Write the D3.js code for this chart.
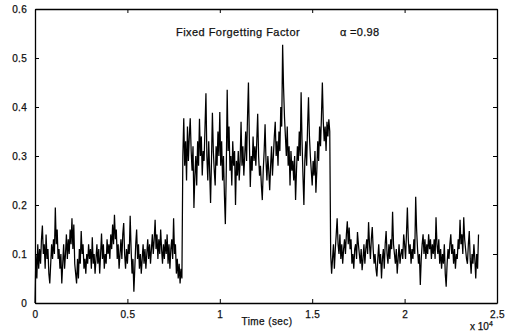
<!DOCTYPE html>
<html>
<head>
<meta charset="utf-8">
<script src="https://cdn.jsdelivr.net/npm/d3@7"></script>
<style>
  html, body { margin: 0; padding: 0; background: #fff; }
  svg { display: block; }
  .tick text { font-family: "Liberation Sans", Arial, sans-serif; font-size: 10px; fill: #111; }
  text { stroke: #111; stroke-width: 0.25px; }
</style>
</head>
<body>
<svg id="chart" width="506" height="332"></svg>
<script>
// ---- data ----
const sampleStep = 50; // seconds between samples
const segmentLow1 = [
  0.00,0.10,0.05,0.12,0.07,0.11,0.08,0.13,0.158,0.10,
  0.12,0.07,0.14,0.09,0.11,0.06,0.04,0.08,0.12,0.09,
  0.13,0.10,0.195,0.12,0.15,0.09,0.11,0.07,0.10,0.04,
  0.08,0.12,0.07,0.10,0.14,0.09,0.13,0.10,0.15,0.12,
  0.173,0.11,0.16,0.08,0.06,0.04,0.09,0.05,0.11,0.08,
  0.147,0.10,0.12,0.07,0.09,0.06,0.10,0.08,0.12,0.09,
  0.11,0.07,0.134,0.08,0.10,0.06,0.09,0.12,0.08,0.11,
  0.06,0.10,0.142,0.09,0.12,0.07,0.10,0.08,0.13,0.10,
  0.12,0.09,0.14,0.11,0.16,0.12,0.18,0.13,0.15,0.09,
  0.12,0.07,0.10,0.13,0.09,0.14,0.163,0.10,0.07,0.11,
  0.08,0.12,0.10,0.178,0.11,0.06,0.09,0.023,0.07,0.12,
  0.15,0.09,0.12,0.07,0.10,0.06,0.09,0.12,0.08,0.11,
  0.07,0.10,0.13,0.09,0.12,0.08,0.11,0.14,0.10,0.13,
  0.17,0.11,0.14,0.09,0.13,0.10,0.15,0.11,0.08,0.12,
  0.09,0.13,0.10,0.14,0.08,0.12,0.07,0.11,0.13,0.09,
  0.173,0.10,0.12,0.06,0.09,0.05,0.08,0.04,0.07,0.05
];
const segmentHigh = [
  0.30,0.377,0.28,0.33,0.25,0.36,0.29,0.34,0.377,0.31,
  0.27,0.32,0.194,0.26,0.30,0.24,0.33,0.28,0.376,0.30,
  0.34,0.26,0.31,0.29,0.36,0.428,0.30,0.25,0.33,0.27,
  0.204,0.29,0.388,0.31,0.27,0.24,0.32,0.28,0.35,0.30,
  0.39,0.28,0.33,0.25,0.30,0.22,0.161,0.27,0.435,0.31,
  0.36,0.27,0.30,0.24,0.33,0.28,0.31,0.20,0.29,0.26,
  0.31,0.25,0.29,0.37,0.28,0.32,0.26,0.30,0.35,0.29,
  0.38,0.45,0.33,0.237,0.30,0.27,0.34,0.29,0.32,0.28,
  0.33,0.386,0.30,0.26,0.28,0.24,0.21,0.27,0.31,0.365,
  0.29,0.25,0.30,0.27,0.23,0.28,0.32,0.26,0.30,0.34,
  0.37,0.30,0.33,0.28,0.35,0.31,0.40,0.36,0.527,0.44,
  0.38,0.34,0.30,0.36,0.28,0.32,0.24,0.31,0.27,0.29,
  0.25,0.30,0.21,0.27,0.32,0.29,0.35,0.30,0.43,0.33,
  0.26,0.20,0.29,0.33,0.28,0.36,0.42,0.34,0.30,0.27,
  0.24,0.29,0.26,0.31,0.225,0.27,0.33,0.29,0.36,0.32,
  0.38,0.45,0.37,0.33,0.36,0.31,0.37,0.34,0.375,0.35
];
const segmentLow2 = [
  0.10,0.06,0.09,0.12,0.07,0.11,0.14,0.173,0.12,0.10,
  0.14,0.09,0.12,0.08,0.11,0.13,0.10,0.14,0.167,0.12,
  0.154,0.11,0.13,0.08,0.10,0.07,0.11,0.12,0.09,0.145,
  0.12,0.10,0.08,0.11,0.067,0.09,0.12,0.08,0.11,0.13,
  0.10,0.165,0.12,0.09,0.13,0.155,0.11,0.08,0.10,0.07,
  0.054,0.09,0.12,0.08,0.10,0.05,0.09,0.11,0.07,0.12,
  0.147,0.10,0.08,0.12,0.09,0.13,0.11,0.186,0.12,0.10,
  0.08,0.11,0.06,0.09,0.12,0.08,0.10,0.11,0.09,0.14,
  0.12,0.09,0.14,0.195,0.13,0.10,0.12,0.08,0.11,0.09,
  0.13,0.10,0.217,0.15,0.11,0.08,0.10,0.037,0.09,0.12,
  0.14,0.10,0.13,0.09,0.12,0.10,0.14,0.11,0.13,0.09,
  0.12,0.10,0.13,0.09,0.175,0.12,0.10,0.13,0.08,0.11,
  0.07,0.10,0.08,0.12,0.06,0.033,0.08,0.11,0.09,0.12,
  0.14,0.10,0.12,0.08,0.11,0.07,0.10,0.09,0.13,0.11,
  0.17,0.12,0.14,0.10,0.175,0.13,0.11,0.09,0.08,0.12,
  0.147,0.09,0.06,0.10,0.08,0.12,0.09,0.05,0.10,0.07,
  0.14
];
const xTicks = [0, 5000, 10000, 15000, 20000, 25000];
const xTickLabels = ["0", "0.5", "1", "1.5", "2", "2.5"];
const yTicks = [0, 0.1, 0.2, 0.3, 0.4, 0.5, 0.6];
const yTickLabels = ["0", "0.1", "0.2", "0.3", "0.4", "0.5", "0.6"];
const titleText = "Fixed Forgetting Factor";
const alphaText = "\u03B1 =0.98";
const xLabelText = "Time (sec)";

// ---- build series ----
const values = segmentLow1.concat(segmentHigh, segmentLow2);
const series = values.map((v, i) => ({ t: i * sampleStep, v }));

// ---- layout ----
const L = 35, R = 497, T = 9, B = 303;
const svg = d3.select("#chart");
const x = d3.scaleLinear().domain([0, 25000]).range([L, R]);
const y = d3.scaleLinear().domain([0, 0.6]).range([B, T]);
const font = '"Liberation Sans", Arial, sans-serif';

// data line
svg.append("path")
  .datum(series)
  .attr("fill", "none")
  .attr("stroke", "#000")
  .attr("stroke-width", 1.25)
  .attr("stroke-linejoin", "miter")
  .attr("d", d3.line().x(d => x(d.t)).y(d => y(d.v)));

// axes with inward ticks
const yLabelMap = new Map(yTicks.map((t, i) => [t, yTickLabels[i]]));
const xLabelMap = new Map(xTicks.map((t, i) => [t, xTickLabels[i]]));

const gl = svg.append("g").attr("transform", `translate(${L},0)`)
  .call(d3.axisLeft(y).tickValues(yTicks).tickSizeInner(-4).tickSizeOuter(0).tickPadding(8)
    .tickFormat(d => yLabelMap.get(d)));
const gr = svg.append("g").attr("transform", `translate(${R},0)`)
  .call(d3.axisRight(y).tickValues(yTicks).tickSizeInner(-4).tickSizeOuter(0).tickFormat(""));
const gb = svg.append("g").attr("transform", `translate(0,${B})`)
  .call(d3.axisBottom(x).tickValues(xTicks).tickSizeInner(-4).tickSizeOuter(0).tickPadding(8)
    .tickFormat(d => xLabelMap.get(d)));
const gt = svg.append("g").attr("transform", `translate(0,${T})`)
  .call(d3.axisTop(x).tickValues(xTicks).tickSizeInner(-4).tickSizeOuter(0).tickFormat(""));

[gl, gr, gb, gt].forEach(g => {
  g.select(".domain").attr("stroke", "#000").attr("stroke-width", 1.3);
  g.selectAll(".tick line").attr("stroke", "#000").attr("stroke-width", 1);
});
gl.selectAll(".tick text").attr("font-size", 10).attr("letter-spacing", "0.3px");
gb.selectAll(".tick text").attr("font-size", 10).attr("letter-spacing", "0.3px");

// titles
svg.append("text")
  .attr("x", 176).attr("y", 36)
  .attr("font-family", font).attr("font-size", 11).attr("letter-spacing", "0.45px")
  .attr("fill", "#111")
  .text(titleText);
svg.append("text")
  .attr("x", 340).attr("y", 36)
  .attr("font-family", font).attr("font-size", 11).attr("letter-spacing", "0.3px")
  .attr("fill", "#111")
  .text(alphaText);

// x label
svg.append("text")
  .attr("x", 267).attr("y", 325)
  .attr("text-anchor", "middle")
  .attr("font-family", font).attr("font-size", 10).attr("letter-spacing", "0.4px")
  .attr("fill", "#111")
  .text(xLabelText);

// exponent label
const ex = svg.append("text")
  .attr("x", 470).attr("y", 330)
  .attr("font-family", font).attr("font-size", 10)
  .attr("fill", "#111");
ex.append("tspan").text("x 10");
ex.append("tspan").attr("dy", -4).attr("font-size", 7).text("4");
</script>
</body>
</html>
